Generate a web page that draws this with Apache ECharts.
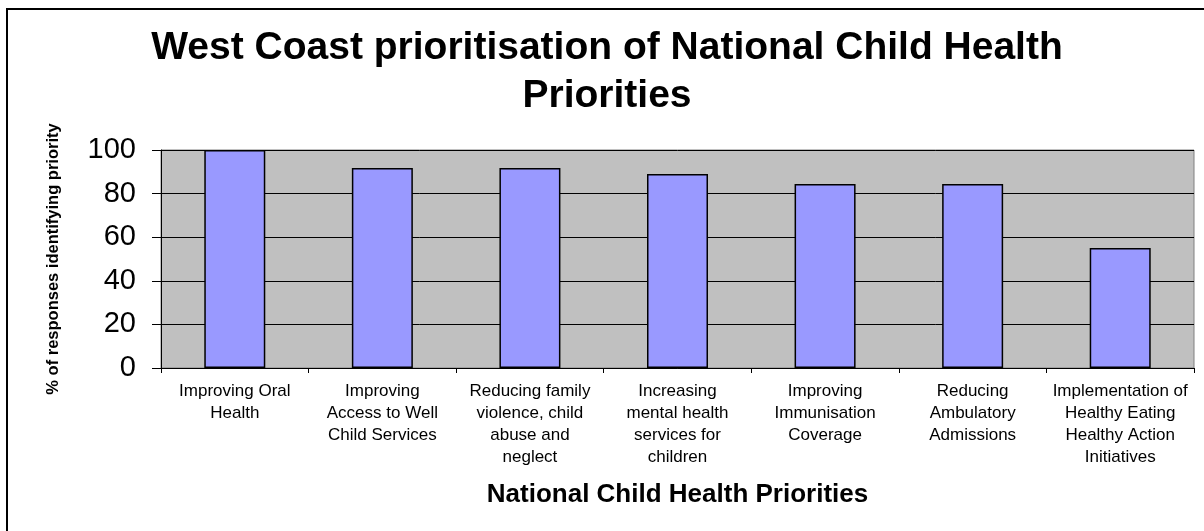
<!DOCTYPE html>
<html>
<head>
<meta charset="utf-8">
<script src="https://cdn.jsdelivr.net/npm/echarts@6/dist/echarts.min.js"></script>
<style>
html,body{margin:0;padding:0;background:#fff;}
#chart{width:1204px;height:531px;}
</style>
</head>
<body>
<div id="chart"></div>
<script>
var titleText = 'West Coast prioritisation of National Child Health\nPriorities';
var categories = [
  'Improving Oral\nHealth',
  'Improving\nAccess to Well\nChild Services',
  'Reducing family\nviolence, child\nabuse and\nneglect',
  'Increasing\nmental health\nservices for\nchildren',
  'Improving\nImmunisation\nCoverage',
  'Reducing\nAmbulatory\nAdmissions',
  'Implementation of\nHealthy Eating\nHealthy Action\nInitiatives'
];
var values = [100, 91.7, 91.7, 89, 84.4, 84.4, 55];
var yAxisName = '% of responses identifying priority';
var xAxisName = 'National Child Health Priorities';

var chart = echarts.init(document.getElementById('chart'), null, {renderer:'canvas'});
var font = 'Liberation Sans, Arial, sans-serif';
chart.setOption({
  animation: false,
  backgroundColor: '#ffffff',
  title: {
    text: titleText,
    left: 607, top: 24, textAlign: 'center', padding: 0,
    textStyle: {fontFamily: font, fontWeight: 'bold', fontSize: 39, lineHeight: 48, color: '#000'}
  },
  graphic: [{
    type: 'rect', silent: true, z: 100,
    shape: {x: 7, y: 9, width: 1400, height: 700},
    style: {fill: 'none', stroke: '#000', lineWidth: 2}
  }],
  grid: {left: 161, right: 10, top: 150, bottom: 163,
         show: true, backgroundColor: '#C0C0C0', borderColor: '#808080', borderWidth: 1},
  xAxis: {
    type: 'category', data: categories,
    name: xAxisName, nameLocation: 'middle', nameGap: 114,
    nameTextStyle: {fontFamily: font, fontWeight: 'bold', fontSize: 26, color: '#000'},
    axisLine: {lineStyle: {color: '#000', width: 1}},
    axisTick: {show: true, alignWithLabel: false, length: 5, lineStyle: {color: '#000'}},
    axisLabel: {interval: 0, margin: 12, fontFamily: font, fontSize: 17, lineHeight: 22, color: '#000', align: 'center'}
  },
  yAxis: {
    type: 'value', min: 0, max: 100, interval: 20,
    name: yAxisName, nameLocation: 'middle', nameGap: 99, nameRotate: 90,
    nameTextStyle: {fontFamily: font, fontWeight: 'bold', fontSize: 16.5, color: '#000'},
    axisLine: {show: true, lineStyle: {color: '#000', width: 1}},
    axisTick: {show: true, length: 9, lineStyle: {color: '#000'}},
    axisLabel: {margin: 25, fontFamily: font, fontSize: 29, color: '#000'},
    splitLine: {show: true, lineStyle: {color: '#000', width: 1}}
  },
  series: [{
    type: 'bar', data: values, barWidth: 61,
    itemStyle: {color: '#9999FF', borderColor: '#000', borderWidth: 1.5}
  }]
});
</script>
</body>
</html>
